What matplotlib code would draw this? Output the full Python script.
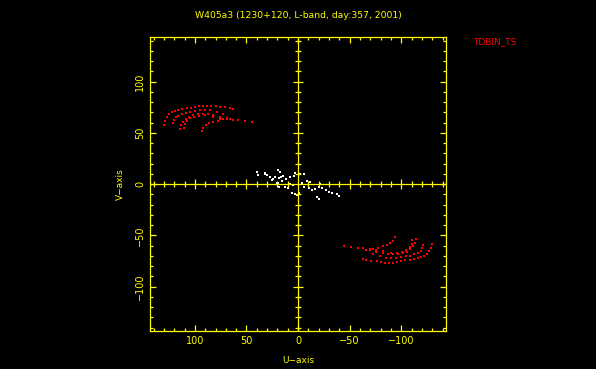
import numpy as np
import matplotlib
matplotlib.use("Agg")
import matplotlib.pyplot as plt

YEL = "#ffff00"

title = "W405a3 (1230+120, L-band, day:357, 2001)"
source = "TDBIN_TS"

# red uv tracks (upper-left half)
u_red = [130, 129, 127, 125, 122, 119, 116, 112, 108, 104, 100, 96, 92, 88, 84, 80, 76, 71, 66, 63,
         121, 120, 118.6, 116, 112.7, 108.8, 105, 100, 95, 90, 85.5, 79, 72.5,
         114, 113, 111.3, 108.8, 105.5, 101.6, 96.8, 92, 87, 82.2, 75.7, 69.2,
         110.7, 110, 108, 105, 100.6, 95.8, 90.3, 82.2, 75.7, 69.2, 62.7,
         93.5, 92, 89.3, 86, 82.2, 77.3, 72.5, 66, 58, 51.4, 44.2]
v_red = [58, 62, 65, 68, 70, 71, 72, 73, 74, 74.5, 75, 76, 76.5, 76.5, 76.5, 76, 75.5, 75, 74, 73.5,
         59.3, 62.6, 65.2, 66.9, 68.5, 69.8, 70.4, 71.4, 72.4, 72.4, 71.8, 70.4, 68.5,
         53.4, 57.3, 60.6, 63.2, 65.8, 67.1, 68.1, 68.4, 68.1, 67.1, 65.8, 64.2,
         55, 58.3, 61.6, 64.2, 65.8, 66.8, 67.1, 65.2, 63.8, 63.2, 62.6,
         51.8, 55.1, 57.7, 59.3, 60.6, 61.9, 63.2, 63.8, 62.6, 61.6, 60.3]

# red uv tracks (conjugate, lower-right half)
u_red2 = [-130, -129, -127, -125, -122, -119, -116, -112, -108, -104, -100, -96, -92, -88, -84, -80, -76, -71, -66, -63,
          -121, -120, -118.6, -116, -112.7, -108.8, -105, -100, -95, -90, -85.5, -79, -72.5,
          -114, -113, -111.3, -108.8, -105.5, -101.6, -96.8, -92, -87, -82.2, -75.7, -69.2,
          -110.7, -110, -108, -105, -100.6, -95.8, -90.3, -82.2, -75.7, -69.2, -62.7,
          -93.5, -92, -89.3, -86, -82.2, -77.3, -72.5, -66, -58, -51.4, -44.2]
v_red2 = [-58, -62, -65, -68, -70, -71, -72, -73, -74, -74.5, -75, -76, -76.5, -76.5, -76.5, -76, -75.5, -75, -74, -73.5,
          -59.3, -62.6, -65.2, -66.9, -68.5, -69.8, -70.4, -71.4, -72.4, -72.4, -71.8, -70.4, -68.5,
          -53.4, -57.3, -60.6, -63.2, -65.8, -67.1, -68.1, -68.4, -68.1, -67.1, -65.8, -64.2,
          -55, -58.3, -61.6, -64.2, -65.8, -66.8, -67.1, -65.2, -63.8, -63.2, -62.6,
          -51.8, -55.1, -57.7, -59.3, -60.6, -61.9, -63.2, -63.8, -62.6, -61.6, -60.3]

# white points near the centre
u_wht = [39.9, 38.4, 32.5, 30.2, 27.0, 24.3, 22.1, 19.5, 17.9, 18.9, 16.6, 14.6, 19.9, 15.6, 11.4,
         7.5, 4.3, -1.6, -5.5, 12.4, 10.1, 8.2, 4.9, 5.8, 2.6, -0.6, -3.9, -8.8, -12.0, -6.1,
         -10.3, -13.6, -16.8, -20.1, -21.7, -23.4, -26.6, -29.8, -33.1, -38.0, -39.9, -18.5, -20.4,
         2.6, 31.8, 25.3, 20.4, 18.9, 7.5, 1.0]
v_wht = [11.7, 9.1, 11.0, 8.5, 6.5, 4.9, 6.5, 13.7, 11.7, 5.6, 7.1, 7.8, 1.3, 3.2, 4.6,
         6.5, 7.8, 9.8, 9.5, -3.2, -3.9, 0.0, -1.0, -9.1, -9.8, -9.1, 0.7, 3.2, 2.0, -2.6,
         -4.2, -5.9, -4.6, -2.6, 0.0, -4.2, -5.9, -8.1, -9.1, -10.1, -11.7, -12.4, -14.4,
         10.5, 9.8, 3.9, 0.7, -2.6, 7.1, -10.7]

lim = 143

fig = plt.figure(figsize=(5.96, 3.69), dpi=100, facecolor="black")
ax = fig.add_axes([0.2525, 0.1038, 0.4953, 0.7946], facecolor="black")

ax.plot(u_red, v_red, "s", color="red", ms=1.5, mew=0)
ax.plot(u_red2, v_red2, "s", color="red", ms=1.5, mew=0)
ax.plot(u_wht, v_wht, "s", color="white", ms=1.8, mew=0)

# centre cross with ticks
ax.axhline(0, color=YEL, lw=0.9)
ax.axvline(0, color=YEL, lw=0.9)
minor = np.arange(-140, 141, 10)
minor = minor[(minor % 50 != 0)]
major = np.array([-100, -50, 50, 100])
z = np.zeros_like(minor)
zm = np.zeros_like(major)
ax.plot(minor, z, "|", color=YEL, ms=4.3, mew=0.9)
ax.plot(z, minor, "_", color=YEL, ms=4.3, mew=0.9)
ax.plot(major, zm, "|", color=YEL, ms=6.5, mew=0.9)
ax.plot(zm, major, "_", color=YEL, ms=6.5, mew=0.9)

ax.set_xlim(lim, -lim)
ax.set_ylim(-lim, lim)
ax.set_xticks([100, 50, 0, -50, -100])
ax.set_yticks([-100, -50, 0, 50, 100])
ax.set_xticks(np.arange(-140, 141, 10), minor=True)
ax.set_yticks(np.arange(-140, 141, 10), minor=True)
ax.set_xticklabels(["100", "50", "0", "\u221250", "\u2212100"])
ax.set_yticklabels(["\u2212100", "\u221250", "0", "50", "100"], rotation=90, va="center")
ax.tick_params(which="both", direction="in", top=True, right=True, color=YEL, width=0.9,
               labelcolor=YEL, labelsize=7)
ax.tick_params(which="major", length=4.5, pad=4)
ax.tick_params(which="minor", length=2.5)
for s in ax.spines.values():
    s.set_color(YEL)
    s.set_linewidth(0.9)

ax.set_xlabel("U\u2212axis", color=YEL, fontsize=6.5, labelpad=7)
ax.set_ylabel("V\u2212axis", color=YEL, fontsize=6.5, labelpad=7)

fig.text(0.5, 0.957, title, color=YEL, fontsize=6.7, ha="center", va="center")
fig.text(0.794, 0.887, source, color="red", fontsize=6.5, ha="left", va="center")

fig.savefig("out.png", dpi=100, facecolor="black")
